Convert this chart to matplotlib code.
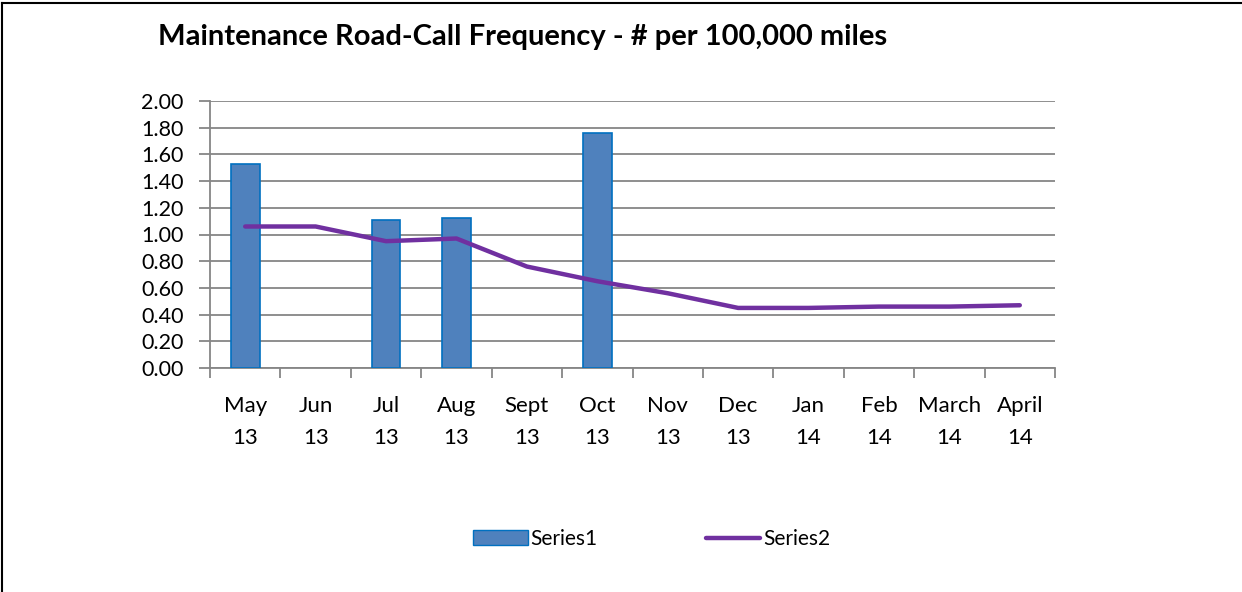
import matplotlib.pyplot as plt
from matplotlib.patches import Rectangle
from matplotlib.lines import Line2D

# данные графика
months = ['May\n13', 'Jun\n13', 'Jul\n13', 'Aug\n13', 'Sept\n13', 'Oct\n13',
          'Nov\n13', 'Dec\n13', 'Jan\n14', 'Feb\n14', 'March\n14', 'April\n14']
series1 = [1.53, 0, 1.11, 1.12, 0, 1.76, 0, 0, 0, 0, 0, 0]
series2 = [1.06, 1.06, 0.95, 0.97, 0.76, 0.65, 0.56, 0.45, 0.45, 0.46, 0.46, 0.47]

plt.rcParams['font.family'] = ['Lato', 'DejaVu Sans']

fig = plt.figure(figsize=(12.42, 5.92), dpi=100)
ax = fig.add_axes([210 / 1242, 1 - 368 / 592, 845 / 1242, 267 / 592])

x = list(range(len(months)))
# столбцы только там, где есть значения
bx = [i for i, v in zip(x, series1) if v > 0]
bv = [v for v in series1 if v > 0]
ax.bar(bx, bv, width=0.41, color='#4F81BD', edgecolor='#0070C0', linewidth=1.2, zorder=3)
ax.plot(x, series2, color='#7030A0', linewidth=3.2, solid_capstyle='round', zorder=4)

ax.set_xlim(-0.5, 11.5)
ax.set_ylim(0, 2.0)
ax.set_yticks([i * 0.2 for i in range(11)])
ax.set_yticklabels([f'{i * 0.2:.2f}' for i in range(11)], fontsize=15.5)
ax.grid(axis='y', color='#868686', linewidth=1.3, zorder=0)

# метки на границах категорий
ax.set_xticks([i - 0.5 for i in range(13)])
ax.set_xticklabels([])
ax.set_xticks(x, minor=True)
ax.set_xticklabels(months, minor=True, fontsize=16, linespacing=1.75)
ax.tick_params(axis='x', which='major', length=7, color='#868686', width=1.3)
ax.tick_params(axis='x', which='minor', length=0, pad=20)
ax.tick_params(axis='y', length=8, color='#868686', width=1.3, pad=11)

for side in ['top', 'right']:
    ax.spines[side].set_visible(False)
for side in ['left', 'bottom']:
    ax.spines[side].set_color('#868686')
    ax.spines[side].set_linewidth(1.3)

fig.text(158 / 1242, 1 - 37 / 592, 'Maintenance Road-Call Frequency - # per 100,000 miles',
         fontsize=21, fontweight='bold', va='center', ha='left')

# легенда
handles = [Rectangle((0, 0), 1, 1, facecolor='#4F81BD', edgecolor='#0070C0'),
           Line2D([0], [0], color='#7030A0', linewidth=3.2, solid_capstyle='round')]
fig.legend(handles, ['Series1', 'Series2'], loc='center', bbox_to_anchor=(652 / 1242, 1 - 539 / 592),
           ncol=2, frameon=False, fontsize=15, handlelength=2.6, handletextpad=0.15,
           columnspacing=5.2)

# рамка: только сверху и слева
fig.add_artist(Line2D([0.002, 0.002], [0, 0.995], transform=fig.transFigure, color='black', linewidth=1.5))
fig.add_artist(Line2D([0.002, 1], [0.995, 0.995], transform=fig.transFigure, color='black', linewidth=1.5))

plt.savefig('out.png', dpi=100)
